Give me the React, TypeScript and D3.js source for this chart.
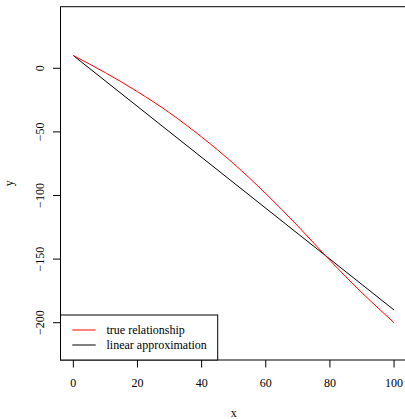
import React from "react";
import * as d3 from "d3";

// Observed curve and its straight-line approximation
const xValues = [0, 10, 20, 30, 40, 50, 60, 70, 80, 90, 100];
const trueValues = [10, -3.5, -18.4, -35, -54, -75, -98.5, -124, -151, -176.5, -200];
const linearX = [0, 100];
const linearValues = [10, -190];

const xTicks = [0, 20, 40, 60, 80, 100];
const yTicks = [0, -50, -100, -150, -200];
const legendLabels = ["true relationship", "linear approximation"];
const legendColors = ["#ff0000", "#000000"];

const W = 405;
const H = 419;
const FONT = "'Liberation Serif', 'Times New Roman', serif";

export default function App() {
  const x = d3.scaleLinear().domain([-4, 104]).range([60.5, 406.9]);
  const y = d3.scaleLinear().domain([-229.3, 48.4]).range([360, 6.7]);

  const line = d3
    .line<[number, number]>()
    .x((d) => x(d[0]))
    .y((d) => y(d[1]));

  const truePath = line.curve(d3.curveMonotoneX)(
    xValues.map((v, i) => [v, trueValues[i]] as [number, number])
  );
  const linearPath = d3
    .line<[number, number]>()
    .x((d) => x(d[0]))
    .y((d) => y(d[1]))(linearX.map((v, i) => [v, linearValues[i]] as [number, number]));

  const left = x(-4);
  const right = x(104);
  const top = y(48.4);
  const bottom = y(-229.3);

  const legendRight = 217.7;
  const legendTop = 315;

  return (
    <svg
      width={W}
      height={H}
      style={{ position: "fixed", left: 0, top: 0, background: "#fff" }}
      fontFamily={FONT}
    >
      <rect x={0} y={0} width={W} height={H} fill="#fff" />
      <path d={linearPath || ""} fill="none" stroke="#000" strokeWidth={1} />
      <path d={truePath || ""} fill="none" stroke="#ff0000" strokeWidth={1} />

      {/* plot frame */}
      <rect
        x={left}
        y={top}
        width={right - left}
        height={bottom - top}
        fill="none"
        stroke="#000"
        strokeWidth={1}
      />

      {/* x axis */}
      {xTicks.map((t) => (
        <g key={"x" + t}>
          <line x1={x(t)} x2={x(t)} y1={bottom} y2={bottom + 7.5} stroke="#000" />
          <text x={x(t)} y={387} fontSize={12} textAnchor="middle">
            {t}
          </text>
        </g>
      ))}
      <text x={(left + right) / 2} y={417} fontSize={12} textAnchor="middle">
        x
      </text>

      {/* y axis */}
      {yTicks.map((t) => (
        <g key={"y" + t}>
          <line x1={left} x2={left - 7.5} y1={y(t)} y2={y(t)} stroke="#000" />
          <text
            transform={`translate(43.5,${y(t)}) rotate(-90)`}
            fontSize={12}
            textAnchor="middle"
          >
            {t < 0 ? "\u2212" + Math.abs(t) : t}
          </text>
        </g>
      ))}
      <text
        transform={`translate(13,${(top + bottom) / 2}) rotate(-90)`}
        fontSize={12}
        textAnchor="middle"
      >
        y
      </text>

      {/* legend */}
      <rect
        x={left}
        y={legendTop}
        width={legendRight - left}
        height={bottom - legendTop}
        fill="#fff"
        stroke="#000"
        strokeWidth={1}
      />
      {legendLabels.map((label, i) => {
        const ly = 330 + i * 15;
        return (
          <g key={label}>
            <line x1={72.3} x2={95.7} y1={ly} y2={ly} stroke={legendColors[i]} strokeWidth={1} />
            <text x={106.5} y={ly + 4} fontSize={12}>
              {label}
            </text>
          </g>
        );
      })}
    </svg>
  );
}
